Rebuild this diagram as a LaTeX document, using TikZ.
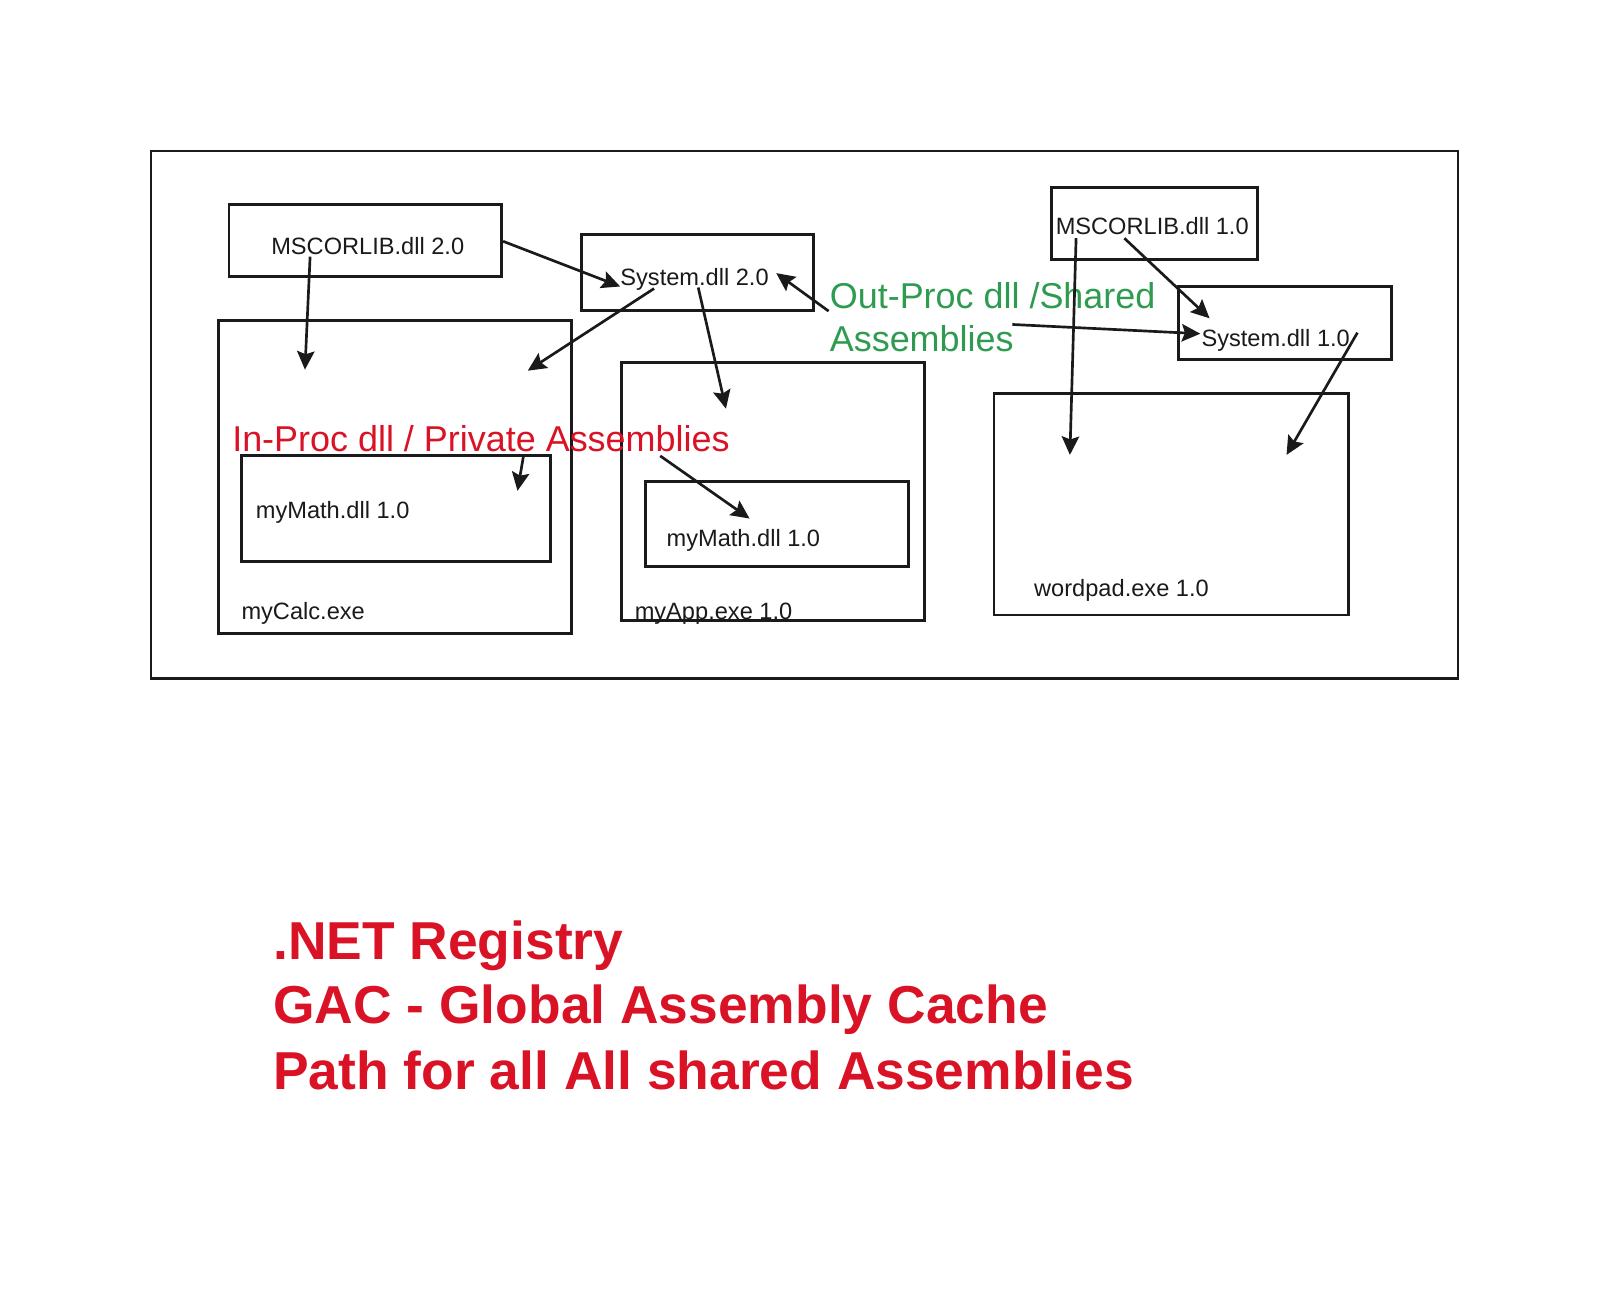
\documentclass[tikz,border=0pt]{standalone}
\usepackage{fontspec}
\setmainfont{Liberation Sans}
\usetikzlibrary{arrows.meta}
\definecolor{ink}{RGB}{26,26,26}
\definecolor{dred}{RGB}{217,18,38}
\definecolor{dgreen}{RGB}{47,155,80}
\tikzset{
  box/.style={draw=ink, line width=2.8pt, inner sep=0pt, rectangle},
  lbl/.style={anchor=base west, inner sep=0pt, text=ink, font=\fontsize{23}{27}\selectfont},
  redlbl/.style={anchor=base west, inner sep=0pt, text=dred, font=\fontsize{35}{40}\selectfont},
  greenlbl/.style={anchor=base west, inner sep=0pt, text=dgreen, font=\fontsize{35}{40}\selectfont},
  biglbl/.style={anchor=base west, inner sep=0pt, text=dred, font=\bfseries\fontsize{52}{60}\selectfont},
  conn/.style={draw=ink, line width=2.6pt, -{Stealth[length=18pt,width=17pt,inset=3pt]}}
}
\newcommand{\boxat}[5]{\node[box, minimum width=#4-#2, minimum height=#5-#3] (#1) at ({(#2+#4)/2},{(#3+#5)/2}) {};}
\begin{document}
\begin{tikzpicture}[x=1pt,y=-1pt]
\useasboundingbox (0,0) rectangle (1568,1278);
% boxes
\boxat{outer}{147}{147}{1420}{661}
\boxat{mscA}{223}{199}{488}{269}
\boxat{sysA}{566}{228}{792}{302}
\boxat{calc}{213}{312}{557}{617}
\boxat{mathA}{235}{444}{536}{547}
\boxat{app}{605}{353}{900}{604}
\boxat{mathB}{629}{469}{885}{552}
\boxat{mscB}{1024}{183}{1225}{253}
\boxat{sysB}{1148}{279}{1355}{350}
\boxat{word}{968}{383}{1313}{599}
% labels
\node[lbl] (tmscA) at (264,248) {MSCORLIB.dll 2.0};
\node[lbl] (tsysA) at (604,278) {System.dll 2.0};
\node[lbl] (tmscB) at (1028,228) {MSCORLIB.dll 1.0};
\node[lbl] (tsysB) at (1170,337) {System.dll 1.0};
\node[lbl] (tmathA) at (249,505) {myMath.dll 1.0};
\node[lbl] (tmathB) at (649,532) {myMath.dll 1.0};
\node[lbl] (tcalc) at (235,603) {myCalc.exe};
\node[lbl] (tapp) at (618,603) {myApp.exe 1.0};
\node[lbl] (tword) at (1007,581) {wordpad.exe 1.0};
\node[redlbl] (inproc) at (226,440) {In-Proc dll / Private Assemblies};
\node[greenlbl] (outproc1) at (808,300) {Out-Proc dll /Shared};
\node[greenlbl] (outproc2) at (808,342) {Assemblies};
\node[biglbl] (big1) at (266,934) {.NET Registry};
\node[biglbl] (big2) at (266,997) {GAC - Global Assembly Cache};
\node[biglbl] (big3) at (266,1061) {Path for all All shared Assemblies};
% connector end points
\coordinate (a1s) at (490,235); \coordinate (a1e) at (604,279);
\coordinate (a2s) at (302,250); \coordinate (a2e) at (297,360);
\coordinate (a3s) at (637,281); \coordinate (a3e) at (514,361);
\coordinate (a4s) at (680,280); \coordinate (a4e) at (707,398);
\coordinate (a5s) at (807,303); \coordinate (a5e) at (756,266);
\coordinate (a6s) at (510,443); \coordinate (a6e) at (504,478);
\coordinate (a7s) at (643,444); \coordinate (a7e) at (730,505);
\coordinate (a8s) at (1048,232); \coordinate (a8e) at (1042,443);
\coordinate (a9s) at (1095,232); \coordinate (a9e) at (1178,310);
\coordinate (a10s) at (986,316); \coordinate (a10e) at (1169,325);
\coordinate (a11s) at (1322,324); \coordinate (a11e) at (1253,443);
\foreach \i in {1,...,11} { \draw[conn] (a\i s) -- (a\i e); }
\end{tikzpicture}
\end{document}
